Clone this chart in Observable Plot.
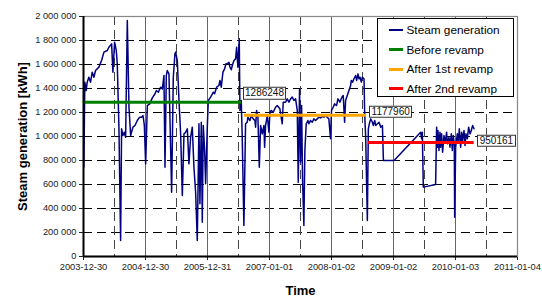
<!DOCTYPE html>
<html><head><meta charset="utf-8">
<script src="https://cdn.jsdelivr.net/npm/d3@7"></script>
<script src="https://cdn.jsdelivr.net/npm/@observablehq/plot@0.6"></script>
<style>
html,body{margin:0;padding:0;background:#fff;}
#chart{position:relative;width:542px;height:297px;font-family:'Liberation Sans',Arial,sans-serif;}
.avgbox{position:absolute;background:#fff;border:1px solid #333;padding:0 1.5px;font-size:10px;line-height:10.5px;color:#111;white-space:nowrap;transform:translateY(-50%);}
#legend{position:absolute;left:377px;top:18px;width:137px;height:79px;box-sizing:border-box;border:1px solid #000;background:#fff;font-size:11.8px;color:#000;}
.lgrow{position:absolute;left:11px;height:14px;display:flex;align-items:center;white-space:nowrap;}
.lgline{display:inline-block;width:14px;margin-right:3.5px;}
</style>
</head><body><div id="chart"></div>
<script>
// Time as decimal years, steam generation in kWh
const times = [
2004.000,2004.016,2004.038,2004.054,2004.081,2004.108,2004.135,2004.162,2004.189,2004.243,
2004.286,2004.324,2004.378,2004.404,2004.448,2004.469,2004.496,2004.523,2004.539,2004.566,
2004.593,2004.609,2004.631,2004.652,2004.674,2004.701,2004.728,2004.755,2004.792,2004.825,
2004.862,2004.900,2004.932,2004.954,2004.976,2004.997,2005.024,2005.062,2005.105,2005.148,
2005.170,2005.202,2005.240,2005.267,2005.293,2005.310,2005.331,2005.347,2005.374,2005.417,
2005.444,2005.471,2005.482,2005.509,2005.536,2005.563,2005.590,2005.617,2005.644,2005.671,
2005.697,2005.724,2005.751,2005.778,2005.805,2005.832,2005.859,2005.875,2005.897,2005.913,
2005.929,2005.951,2005.967,2005.994,2006.010,2006.048,2006.091,2006.112,2006.145,2006.182,
2006.199,2006.220,2006.247,2006.274,2006.296,2006.317,2006.344,2006.360,2006.382,2006.398,
2006.425,2006.452,2006.468,2006.489,2006.511,2006.522,2006.543,2006.559,2006.586,2006.613,
2006.640,2006.651,2006.683,2006.705,2006.737,2006.764,2006.775,2006.791,2006.813,2006.835,
2006.856,2006.883,2006.910,2006.921,2006.937,2006.964,2006.991,2007.007,2007.028,2007.061,
2007.098,2007.125,2007.168,2007.206,2007.222,2007.260,2007.287,2007.314,2007.341,2007.368,
2007.395,2007.422,2007.449,2007.465,2007.486,2007.502,2007.519,2007.535,2007.556,2007.572,
2007.594,2007.621,2007.637,2007.664,2007.691,2007.718,2007.745,2007.772,2007.799,2007.826,
2007.853,2007.880,2007.907,2007.933,2007.960,2007.987,2008.003,2008.030,2008.052,2008.084,
2008.106,2008.138,2008.160,2008.176,2008.192,2008.214,2008.230,2008.257,2008.284,2008.311,
2008.322,2008.343,2008.365,2008.392,2008.408,2008.430,2008.446,2008.462,2008.484,2008.500,
2008.527,2008.538,2008.554,2008.581,2008.597,2008.613,2008.635,2008.662,2008.678,2008.700,
2008.716,2008.743,2008.770,2008.797,2008.824,2008.840,2009.012,2009.442,2009.458,2009.469,
2009.485,2009.684,2009.700,2009.711,2009.722,2009.738,2009.754,2009.765,2009.781,2009.797,
2009.819,2009.840,2009.862,2009.873,2009.900,2009.916,2009.938,2009.954,2009.970,2009.986,
2009.992,2010.008,2010.035,2010.051,2010.067,2010.089,2010.105,2010.121,2010.143,2010.159,
2010.175,2010.197,2010.218,2010.240,2010.261,2010.283,2010.305
];
const steam = [
744000,1453000,1383000,1453000,1494000,1453000,1536000,1494000,1550000,1578000,
1633000,1703000,1717000,1744000,1772000,1536000,1786000,1717000,1606000,1078000,
133000,1064000,1008000,1036000,994000,1967000,1244000,1008000,1078000,1092000,
1133000,1161000,1161000,1175000,1092000,772000,1258000,1272000,1322000,1356000,
1383000,1369000,1411000,1397000,1508000,744000,1508000,1550000,1522000,536000,
1494000,1689000,1703000,1633000,1300000,1022000,508000,1022000,1036000,1064000,
772000,994000,1078000,744000,536000,133000,1106000,439000,1119000,286000,
1092000,883000,606000,1078000,1300000,1328000,1369000,1356000,1411000,1425000,
1467000,1411000,1536000,1564000,1606000,1606000,1619000,1578000,1556000,1592000,
1633000,1647000,1744000,1578000,1814000,1217000,1300000,994000,258000,1106000,
1119000,1161000,1133000,1175000,1147000,1133000,1078000,1217000,1161000,744000,
1092000,1022000,1092000,911000,1092000,1175000,1036000,1203000,1217000,1203000,
1244000,1258000,1231000,1106000,1286000,1286000,1314000,1286000,1314000,1328000,
1300000,1314000,1217000,619000,1397000,786000,1258000,633000,258000,883000,
1106000,1133000,1106000,1133000,1119000,1147000,1133000,1147000,1161000,1155000,
1167000,1161000,1175000,1161000,1147000,981000,1217000,1244000,1272000,1258000,
1314000,1286000,1314000,1333000,1342000,1119000,1300000,1342000,1383000,1425000,
1467000,1453000,1481000,1508000,1467000,1522000,1481000,1494000,1453000,1494000,
1481000,1189000,994000,300000,1064000,1106000,1147000,1119000,1092000,1133000,
1092000,1106000,1119000,1078000,1092000,800000,800000,1036000,981000,1036000,
578000,600000,1078000,911000,1050000,883000,1036000,911000,1022000,869000,
1008000,953000,1036000,939000,994000,911000,1022000,883000,1008000,939000,
328000,911000,1022000,953000,1064000,911000,1036000,967000,1050000,925000,
1022000,981000,1078000,1022000,1050000,1092000,1064000
];
const periods = ["Before revamp", "After 1st revamp", "After 2nd revamp"];
const periodStart = [2003.995, 2006.586, 2008.591];
const periodEnd = [2006.540, 2008.553, 2010.300];
const periodMean = [1286248, 1177960, 950161];
const periodColors = ["#008000", "#FFA500", "#FF0000"];
const seriesName = "Steam generation";
const seriesColor = "#000080";
const yTitle = "Steam generation [kWh]";
const xTitle = "Time";
const xTickLabels = ["2003-12-30","2004-12-30","2005-12-31","2007-01-01","2008-01-02","2009-01-02","2010-01-03","2011-01-04"];
const yTicks = [0,200000,400000,600000,800000,1000000,1200000,1400000,1600000,1800000,2000000];

function yearToDate(t) {
  const y = Math.floor(t);
  const s = Date.UTC(y, 0, 1), e = Date.UTC(y + 1, 0, 1);
  return new Date(s + (t - y) * (e - s));
}
const majors = xTickLabels.map(d => new Date(d));
const minors = d3.pairs(majors, (a, b) => new Date((+a + +b) / 2));
const fmt = d3.formatLocale({decimal: ".", thousands: " ", grouping: [3], currency: ["", ""]}).format(",");
const series = times.map((t, i) => ({date: yearToDate(t), value: steam[i]}));
const avg = periods.map((p, i) => ({name: p, start: yearToDate(periodStart[i]), end: yearToDate(periodEnd[i]), value: periodMean[i], color: periodColors[i]}));
const labelOffsets = [[2, -8.4], [4, -3], [4, -1]];
const font = "'Liberation Sans', Arial, sans-serif";

const chart = Plot.plot({
  width: 542, height: 297,
  marginLeft: 83, marginRight: 25, marginTop: 16, marginBottom: 41,
  style: {fontFamily: font, fontSize: "9.3px", color: "#222", background: "#fff", overflow: "visible"},
  x: {type: "utc", domain: [majors[0], majors[majors.length - 1]], ticks: majors, tickFormat: d3.utcFormat("%Y-%m-%d"), tickSize: 4, tickPadding: 3, label: null},
  y: {domain: [0, 2000000], ticks: yTicks, tickFormat: fmt, tickSize: 4, tickPadding: 3, label: null},
  color: {type: "identity"},
  marks: [
    Plot.ruleY(yTicks.filter(v => v > 0 && v < 2000000), {stroke: "#000", strokeDasharray: "9,5", strokeWidth: 1}),
    Plot.ruleX(minors, {stroke: "#444", strokeDasharray: "9,5", strokeWidth: 1}),
    Plot.ruleX(majors.slice(1), {stroke: "#666", strokeWidth: 1}),
    Plot.frame({stroke: "#888", strokeWidth: 1.2}),
    Plot.line(series, {x: "date", y: "value", stroke: seriesColor, strokeWidth: 1.5}),
    Plot.link(avg, {x1: "start", x2: "end", y1: "value", y2: "value", stroke: "color", strokeWidth: 3}),
    Plot.ruleY([0], {stroke: "#000", strokeWidth: 2}),
    Plot.ruleX([majors[0]], {stroke: "#000", strokeWidth: 2}),
    Plot.text([yTitle], {frameAnchor: "left", textAnchor: "middle", dx: -61, rotate: -90, fontWeight: "bold", fontSize: 13, fill: "#000", lineAnchor: "middle"}),
    Plot.text([xTitle], {frameAnchor: "bottom", textAnchor: "middle", dy: 34, fontWeight: "bold", fontSize: 13, fill: "#000", lineAnchor: "middle"})
  ]
});
const root = document.getElementById("chart");
root.appendChild(chart);

// boxed labels for the period averages, positioned through the plot's scales
const xs = chart.scale("x"), ys = chart.scale("y");
avg.forEach((d, i) => {
  const div = document.createElement("div");
  div.className = "avgbox";
  div.textContent = String(d.value);
  div.style.left = (xs.apply(d.end) + labelOffsets[i][0]) + "px";
  div.style.top = (ys.apply(d.value) + labelOffsets[i][1]) + "px";
  root.appendChild(div);
});

// legend inside the plot area
const legend = document.createElement("div");
legend.id = "legend";
const entries = [{name: seriesName, color: seriesColor, w: 1.6}, ...periods.map((p, i) => ({name: p, color: periodColors[i], w: 3}))];
entries.forEach((e, i) => {
  const row = document.createElement("div");
  row.className = "lgrow";
  row.style.top = (4 + i * 19.5) + "px";
  const ln = document.createElement("span");
  ln.className = "lgline";
  ln.style.height = e.w + "px";
  ln.style.background = e.color;
  const tx = document.createElement("span");
  tx.textContent = e.name;
  row.appendChild(ln); row.appendChild(tx);
  legend.appendChild(row);
});
root.appendChild(legend);
</script>
</body></html>
